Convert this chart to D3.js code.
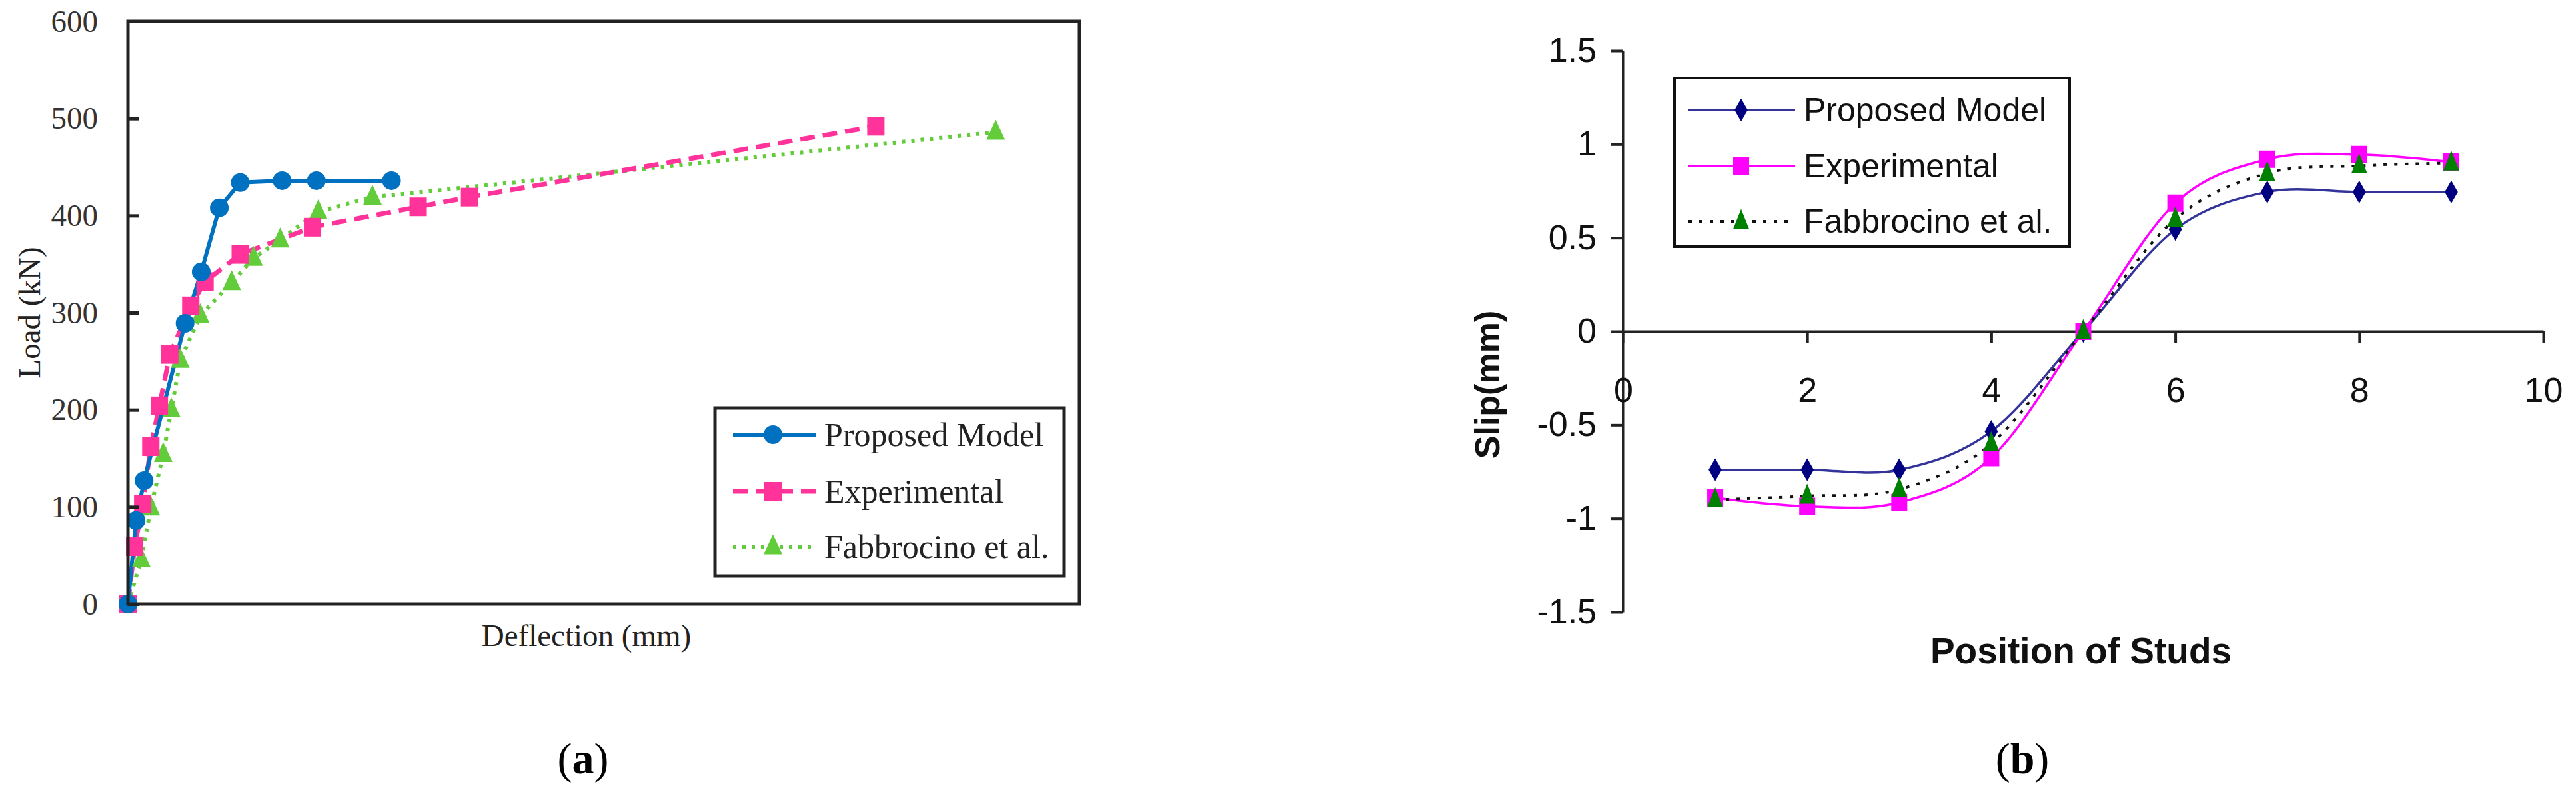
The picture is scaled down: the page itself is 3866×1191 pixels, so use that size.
<!DOCTYPE html>
<html>
<head>
<meta charset="utf-8">
<script src="https://cdn.jsdelivr.net/npm/d3@7"></script>
<style>
  html, body { margin: 0; padding: 0; background: #fff; }
  svg { display: block; }
</style>
</head>
<body>
<svg id="chart" width="3866" height="1191"></svg>
<script>
// ---------- Panel (a): Load vs Deflection ----------
const seriesNamesA = ["Proposed Model", "Experimental", "Fabbrocino et al."];
const deflectionProposed = [0, 0.85, 1.7, 6.0, 7.7, 9.6, 11.8, 16.2, 19.8, 27.7];
const loadProposed       = [0, 86, 127, 289, 342, 408, 434, 436, 436, 436];
const deflectionExp = [0, 0.7, 1.55, 2.4, 3.3, 4.4, 6.6, 8.1, 11.8, 19.4, 30.5, 35.9, 78.6];
const loadExp       = [0, 59, 103, 162, 204, 257, 307, 332, 360, 388, 409, 419, 492];
const deflectionFab = [0, 1.4, 2.4, 3.7, 4.55, 5.5, 7.6, 10.9, 13.2, 16.0, 20.0, 25.7, 91.2];
const loadFab       = [0, 46, 99, 154, 200, 251, 297, 331, 356, 375, 404, 419, 486];
const loadTicks = [0, 100, 200, 300, 400, 500, 600];

// ---------- Panel (b): Slip vs Position of studs ----------
const seriesNamesB = ["Proposed Model", "Experimental", "Fabbrocino et al."];
const studPositions = [1, 2, 3, 4, 5, 6, 7, 8, 9];
const slipProposed = [-0.74, -0.74, -0.74, -0.535, 0, 0.545, 0.745, 0.745, 0.745];
const slipExp      = [-0.89, -0.935, -0.915, -0.675, 0, 0.685, 0.92, 0.945, 0.905];
const slipFab      = [-0.9, -0.88, -0.845, -0.6, 0, 0.6, 0.845, 0.885, 0.9];
const slipTicks = [-1.5, -1, -0.5, 0, 0.5, 1, 1.5];
const studTicks = [0, 2, 4, 6, 8, 10];

const svg = d3.select("#chart");
svg.append("rect").attr("width", 3866).attr("height", 1191).attr("fill", "#fff");

const serif = "'Liberation Serif', 'Times New Roman', serif";
const sans = "'Liberation Sans', Arial, sans-serif";

function triPath(w, h) {
  const p = d3.path();
  p.moveTo(0, -h * 0.62); p.lineTo(w / 2, h * 0.38); p.lineTo(-w / 2, h * 0.38); p.closePath();
  return p.toString();
}

// ================= Panel (a) =================
const A = { left: 192, right: 1620, top: 32, bottom: 906 };
const xA = d3.scaleLinear().domain([0, 100]).range([A.left, A.right]);
const yA = d3.scaleLinear().domain([0, 600]).range([A.bottom, A.top]);
const gA = svg.append("g");

const colA = ["#0070c0", "#ff3399", "#62cc3a"];
const dashA = [null, "22,12", "5,9"];
const widthA = [6, 7, 6];

const dataA = [
  deflectionProposed.map((d, i) => [d, loadProposed[i]]),
  deflectionExp.map((d, i) => [d, loadExp[i]]),
  deflectionFab.map((d, i) => [d, loadFab[i]])
];

const lineA = d3.line().x(d => xA(d[0])).y(d => yA(d[1]));
[2, 1, 0].forEach(k => {
  gA.append("path").attr("d", lineA(dataA[k])).attr("fill", "none")
    .attr("stroke", colA[k]).attr("stroke-width", widthA[k])
    .attr("stroke-dasharray", dashA[k]);
});
function markerA(g, k, x, y) {
  if (k === 0) g.append("circle").attr("cx", x).attr("cy", y).attr("r", 14).attr("fill", colA[0]);
  else if (k === 1) g.append("rect").attr("x", x - 13).attr("y", y - 14).attr("width", 26).attr("height", 28).attr("fill", colA[1]);
  else g.append("path").attr("d", triPath(28, 30)).attr("transform", `translate(${x},${y})`).attr("fill", colA[2]);
}
[2, 1, 0].forEach(k => {
  dataA[k].forEach(d => markerA(gA, k, xA(d[0]), yA(d[1])));
});

// frame
gA.append("rect").attr("x", A.left).attr("y", A.top)
  .attr("width", A.right - A.left).attr("height", A.bottom - A.top)
  .attr("fill", "none").attr("stroke", "#222").attr("stroke-width", 5);

// y axis (ticks inward)
const axA = gA.append("g").attr("transform", `translate(${A.left},0)`)
  .call(d3.axisLeft(yA).tickValues(loadTicks).tickSizeInner(-16).tickSizeOuter(0).tickPadding(45).tickFormat(d => d));
axA.select(".domain").remove();
axA.selectAll("line").attr("stroke", "#222").attr("stroke-width", 5);
axA.selectAll("text").attr("font-family", serif).attr("font-size", 47).attr("fill", "#333");

gA.append("text").attr("transform", `translate(44,469) rotate(-90)`)
  .attr("text-anchor", "middle").attr("dominant-baseline", "central")
  .attr("font-family", serif).attr("font-size", 47).attr("fill", "#222").text("Load (kN)");
gA.append("text").attr("x", 880).attr("y", 953)
  .attr("text-anchor", "middle").attr("dominant-baseline", "central")
  .attr("font-family", serif).attr("font-size", 47).attr("fill", "#222").text("Deflection (mm)");

// legend (a)
const LA = { x: 1073, y: 612, w: 524, h: 252 };
gA.append("rect").attr("x", LA.x).attr("y", LA.y).attr("width", LA.w).attr("height", LA.h)
  .attr("fill", "#fff").attr("stroke", "#222").attr("stroke-width", 5);
const legYA = [652, 737, 820];
seriesNamesA.forEach((name, k) => {
  gA.append("line").attr("x1", 1100).attr("x2", 1224).attr("y1", legYA[k]).attr("y2", legYA[k])
    .attr("stroke", colA[k]).attr("stroke-width", widthA[k]).attr("stroke-dasharray", dashA[k]);
  markerA(gA, k, 1160, legYA[k]);
  gA.append("text").attr("x", 1237).attr("y", legYA[k]).attr("dominant-baseline", "central")
    .attr("font-family", serif).attr("font-size", 50).attr("fill", "#222").text(name);
});

// ================= Panel (b) =================
const xB = d3.scaleLinear().domain([0, 10]).range([2436, 3817]);
const yB = d3.scaleLinear().domain([-1.5, 1.5]).range([918, 76]);
const gB = svg.append("g");

const colLineB = ["#333399", "#ff00ff", "#111"];
const colMarkB = ["#000080", "#ff00ff", "#008000"];
const dashB = [null, null, "5,11"];
const widthB = [3.5, 3.5, 4];

const axYB = gB.append("g").attr("transform", `translate(${xB(0)},0)`)
  .call(d3.axisLeft(yB).tickValues(slipTicks).tickSizeInner(18).tickSizeOuter(0).tickPadding(22).tickFormat(d => String(d)));
axYB.select(".domain").attr("stroke", "#222").attr("stroke-width", 4);
axYB.selectAll("line").attr("stroke", "#222").attr("stroke-width", 4);
axYB.selectAll("text").attr("font-family", sans).attr("font-size", 52).attr("fill", "#111");

const axXB = gB.append("g").attr("transform", `translate(0,${yB(0)})`)
  .call(d3.axisBottom(xB).tickValues(studTicks).tickSizeInner(18).tickSizeOuter(0).tickPadding(51).tickFormat(d => String(d)));
axXB.select(".domain").attr("stroke", "#222").attr("stroke-width", 4);
axXB.selectAll("line").attr("stroke", "#222").attr("stroke-width", 4);
axXB.selectAll("text").attr("font-family", sans).attr("font-size", 52).attr("fill", "#111");

const dataB = [
  studPositions.map((s, i) => [s, slipProposed[i]]),
  studPositions.map((s, i) => [s, slipExp[i]]),
  studPositions.map((s, i) => [s, slipFab[i]])
];
const lineB = d3.line().x(d => xB(d[0])).y(d => yB(d[1])).curve(d3.curveCatmullRom.alpha(0));
[0, 1, 2].forEach(k => {
  gB.append("path").attr("d", lineB(dataB[k])).attr("fill", "none")
    .attr("stroke", colLineB[k]).attr("stroke-width", widthB[k]).attr("stroke-dasharray", dashB[k]);
});
const diamond = d3.symbol().type(d3.symbolDiamond).size(340)();
function markerB(g, k, x, y) {
  if (k === 0) g.append("path").attr("d", diamond).attr("transform", `translate(${x},${y})`).attr("fill", colMarkB[0]);
  else if (k === 1) g.append("rect").attr("x", x - 12).attr("y", y - 13).attr("width", 24).attr("height", 26).attr("fill", colMarkB[1]);
  else g.append("path").attr("d", triPath(24, 30)).attr("transform", `translate(${x},${y})`).attr("fill", colMarkB[2]);
}
[0, 1, 2].forEach(k => {
  dataB[k].forEach(d => markerB(gB, k, xB(d[0]), yB(d[1])));
});

gB.append("text").attr("transform", `translate(2232,577) rotate(-90)`)
  .attr("text-anchor", "middle").attr("dominant-baseline", "central")
  .attr("font-family", sans).attr("font-weight", "bold").attr("font-size", 52).attr("fill", "#111").text("Slip(mm)");
gB.append("text").attr("x", 3123).attr("y", 976)
  .attr("text-anchor", "middle").attr("dominant-baseline", "central")
  .attr("font-family", sans).attr("font-weight", "bold").attr("font-size", 55).attr("fill", "#111").text("Position of Studs");

// legend (b)
const LB = { x: 2513, y: 117, w: 593, h: 253 };
gB.append("rect").attr("x", LB.x).attr("y", LB.y).attr("width", LB.w).attr("height", LB.h)
  .attr("fill", "#fff").attr("stroke", "#111").attr("stroke-width", 4);
const legYB = [165, 249, 332];
seriesNamesB.forEach((name, k) => {
  gB.append("line").attr("x1", 2534).attr("x2", 2694).attr("y1", legYB[k]).attr("y2", legYB[k])
    .attr("stroke", colLineB[k]).attr("stroke-width", widthB[k]).attr("stroke-dasharray", dashB[k]);
  markerB(gB, k, 2613, legYB[k]);
  gB.append("text").attr("x", 2707).attr("y", legYB[k]).attr("dominant-baseline", "central")
    .attr("font-family", sans).attr("font-size", 50).attr("fill", "#111").text(name);
});

// ================= Captions =================
function caption(x, letter) {
  const t = svg.append("text").attr("x", x).attr("y", 1160).attr("text-anchor", "middle")
    .attr("font-family", serif).attr("font-size", 66).attr("fill", "#000");
  t.append("tspan").text("(");
  t.append("tspan").attr("font-weight", "bold").text(letter);
  t.append("tspan").text(")");
}
caption(875, "a");
caption(3035, "b");
</script>
</body>
</html>
